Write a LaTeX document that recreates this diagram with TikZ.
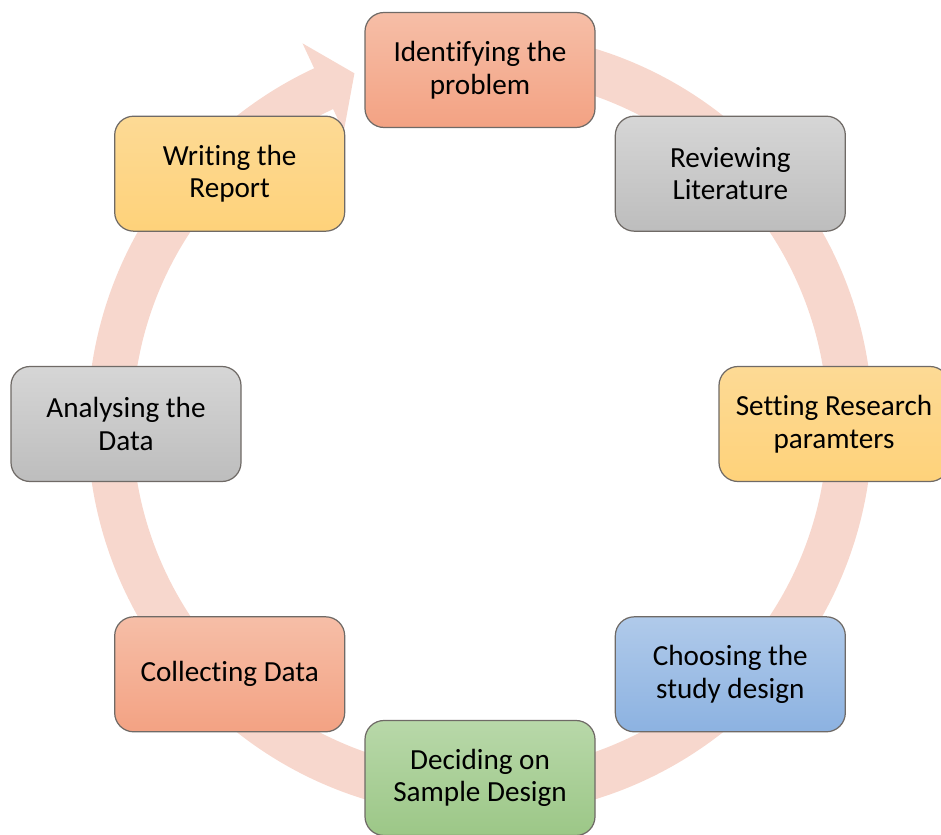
\documentclass[tikz,border=0pt]{standalone}
\usepackage{fontspec}
\setmainfont{Carlito}[Ligatures=NoCommon]
\usetikzlibrary{positioning, calc}
\definecolor{ringPink}{HTML}{F7D7CD}
\definecolor{edgeGray}{HTML}{6F6A66}
\definecolor{salmonTop}{HTML}{F6BEA7}
\definecolor{salmonBot}{HTML}{F3A283}
\definecolor{greyTop}{HTML}{D6D6D6}
\definecolor{greyBot}{HTML}{BDBDBD}
\definecolor{sandTop}{HTML}{FDDA95}
\definecolor{sandBot}{HTML}{FED27A}
\definecolor{skyTop}{HTML}{B0CAEA}
\definecolor{skyBot}{HTML}{8CB2E1}
\definecolor{leafTop}{HTML}{B8D8A9}
\definecolor{leafBot}{HTML}{9CC787}
\def\rin{6.95}
\def\rout{7.85}
\tikzset{
    stepbox/.style={draw=edgeGray, line width=0.7pt, rounded corners=0.38cm,
        minimum width=4.6cm, minimum height=2.3cm, align=center,
        font=\fontsize{16.6}{18.6}\selectfont},
    salmon/.style={stepbox, top color=salmonTop, bottom color=salmonBot},
    grey/.style={stepbox, top color=greyTop, bottom color=greyBot},
    sand/.style={stepbox, top color=sandTop, bottom color=sandBot},
    sky/.style={stepbox, top color=skyTop, bottom color=skyBot},
    leaf/.style={stepbox, top color=leafTop, bottom color=leafBot}
}

\begin{document}
\begin{tikzpicture}
    \useasboundingbox (0,0) rectangle (18.82,16.68);
    \clip (0,0) rectangle (18.82,16.68);
    \coordinate (hub) at (9.6,8.2);

    % Circular arrow behind the steps
    \begin{scope}[shift={(hub)}]
        \fill[ringPink] (85:\rout) arc[start angle=85, end angle=-245, radius=\rout]
            -- (-245:8.4) -- (-250.3:7.45) -- (-245:6.45) -- (-245:\rin)
            arc[start angle=-245, end angle=85, radius=\rin] -- cycle;
    \end{scope}

    % Steps of the research process
    \node[salmon] (ident)   at ($(hub)+(90:7.08)$)   {Identifying the\\problem};
    \node[grey]   (review)  at ($(hub)+(45:7.08)$)   {Reviewing\\Literature};
    \node[sand]   (params)  at ($(hub)+(0:7.08)$)    {Setting Research\\paramters};
    \node[sky]    (design)  at ($(hub)+(-45:7.08)$)  {Choosing the\\study design};
    \node[leaf]   (sample)  at ($(hub)+(-90:7.08)$)  {Deciding on\\Sample Design};
    \node[salmon] (collect) at ($(hub)+(-135:7.08)$) {Collecting Data};
    \node[grey]   (analyse) at ($(hub)+(180:7.08)$)  {Analysing the\\Data};
    \node[sand]   (report)  at ($(hub)+(135:7.08)$)  {Writing the\\Report};
\end{tikzpicture}
\end{document}
